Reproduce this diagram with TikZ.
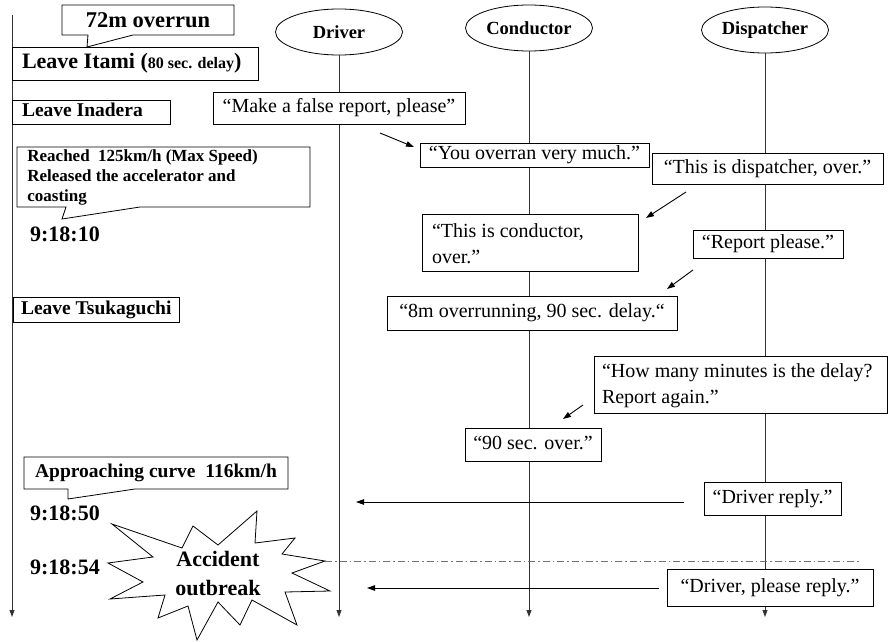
\documentclass[tikz,border=0pt]{standalone}
\usepackage{fontspec}
\setmainfont{Liberation Serif}
\usetikzlibrary{arrows.meta,shapes.geometric}
\begin{document}
\begin{tikzpicture}[x=1pt,y=-1pt,line width=0.8pt,
  actor/.style={draw, ellipse, minimum width=127pt, minimum height=46pt, inner sep=0pt,
    font=\fontsize{18.5}{20}\selectfont\bfseries},
  life/.style={draw=black!80, line width=0.9pt, -{Triangle[length=7pt,width=5pt]}},
  frame/.style={draw, fill=white, inner sep=0pt},
  msgbox/.style={frame, text height=14pt, text depth=4.5pt, font=\fontsize{20}{26}\selectfont},
  msgtext/.style={inner sep=0pt, anchor=west, align=left, font=\fontsize{20}{26}\selectfont},
  evtext/.style={inner sep=0pt, anchor=west, text height=13pt, text depth=4pt,
    font=\fontsize{19.5}{22}\selectfont\bfseries},
  callout/.style={draw, fill=white},
  note/.style={inner sep=0pt, font=\fontsize{#1}{#1}\selectfont\bfseries},
  timestamp/.style={inner sep=0pt, font=\fontsize{22}{24}\selectfont\bfseries},
  msgarrow/.style={-{Triangle[length=8pt,width=5.5pt]}, line width=0.9pt},
  callarrow/.style={-{Triangle[length=8pt,width=5.5pt]}, line width=0.9pt},
  dashdot/.style={draw=black!55, line width=0.8pt, dash pattern=on 7pt off 3pt on 1.5pt off 3pt}
]
\useasboundingbox (0,0) rectangle (889,642);

% participants
\node[actor] (drv) at (339,32) {Driver};
\node[actor] (con) at (529,28) {Conductor};
\node[actor] (dsp) at (765,30) {Dispatcher};

% lifelines
\coordinate (tl-top) at (12,15);
\coordinate (tl-end) at (12,617);
\coordinate (drv-end) at (339,617);
\coordinate (con-end) at (529,617);
\coordinate (dsp-end) at (765,617);
\draw[life] (tl-top) -- (tl-end);
\draw[life] (drv.south) -- (drv-end);
\draw[life] (con.south) -- (con-end);
\draw[life] (dsp.south) -- (dsp-end);

% train events on the time axis
\draw[callout] (62,5) -- (234,5) -- (234,35) -- (133,35) -- (87,47) -- (88,35) -- (62,35) -- cycle;
\node[note=22.5] (ovr) at (148,20) {72m overrun};

\node[frame, minimum width=246pt, minimum height=33pt] (itami) at (135,63.5) {};
\node[evtext, text height=15pt, text depth=5pt, font=\fontsize{22}{24}\selectfont\bfseries]
  (itami-t) at ([xshift=10pt]itami.west)
  {Leave Itami ({\fontsize{16}{18}\selectfont 80 sec. delay})};

\node[frame, minimum width=158pt, minimum height=24pt] (inadera) at (91,112) {};
\node[evtext] (inadera-t) at ([xshift=10pt]inadera.west) {Leave Inadera};

\draw[callout] (17,147) -- (310,147) -- (310,207) -- (140,207) -- (62,219) -- (66,207) -- (17,207) -- cycle;
\node[anchor=north west, inner sep=0pt, align=left, font=\fontsize{17}{20}\selectfont\bfseries] (maxspd) at (27,149)
  {Reached\ \ 125km/h (Max Speed)\\Released the accelerator and\\coasting};

\node[timestamp] (t1) at (65,234) {9:18:10};

\node[frame, minimum width=166pt, minimum height=25pt] (tsuka) at (96,309.5) {};
\node[evtext] (tsuka-t) at ([xshift=8pt]tsuka.west) {Leave Tsukaguchi};

\draw[callout] (24,457) -- (288,457) -- (288,489) -- (135,489) -- (68,499) -- (68,489) -- (24,489) -- cycle;
\node[note=19.5] (curve) at (156,473) {Approaching curve\ \ 116km/h};

\node[timestamp] (t2) at (65,513) {9:18:50};
\node[timestamp] (t3) at (65,567) {9:18:54};

% accident burst
\draw[callout] (112,524) -- (182,548) -- (193,526) -- (218,545) -- (257,511) -- (255,543)
  -- (295,538) -- (282,554) -- (325,561) -- (292,573) -- (330,591) -- (285,592)
  -- (297,625) -- (252,600) -- (240,625) -- (218,602) -- (197,640) -- (188,606)
  -- (158,618) -- (165,595) -- (110,599) -- (143,582) -- (108,563) -- (153,557) -- cycle;
\coordinate (burst-tip) at (325,561);
\node[inner sep=0pt, align=center, font=\fontsize{22}{29}\selectfont\bfseries] (acc) at (218,573)
  {Accident\\outbreak};

% radio messages
\node[msgbox, minimum width=252pt, minimum height=32pt] (m1) at (339,108) {“Make a false report, please”};
\node[msgbox, minimum width=229pt, minimum height=24pt] (m2) at (534.5,155) {“You overran very much.”};
\node[msgbox, minimum width=231pt, minimum height=31pt] (m3) at (767.5,168.5) {“This is dispatcher, over.”};
\node[frame, minimum width=216pt, minimum height=57pt] (m4) at (530,242.5) {};
\node[msgtext] (m4-t) at ([xshift=10pt,yshift=-1pt]m4.west) {“This is conductor,\\over.”};
\node[msgbox, minimum width=150pt, minimum height=28pt] (m5) at (768,244) {“Report please.”};
\node[msgbox, minimum width=290pt, minimum height=34pt] (m6) at (532,313) {“8m overrunning, 90 sec. delay.“};
\node[frame, minimum width=293pt, minimum height=57pt] (m7) at (740.5,384.5) {};
\node[msgtext] (m7-t) at ([xshift=8pt,yshift=-1pt]m7.west) {“How many minutes is the delay?\\Report again.”};
\node[msgbox, minimum width=136pt, minimum height=33pt] (m8) at (533,444.5) {“90 sec. over.”};
\node[msgbox, minimum width=137pt, minimum height=33pt] (m9) at (772.5,498.5) {“Driver reply.”};
\node[msgbox, minimum width=206pt, minimum height=37pt] (m10) at (770,587.5) {“Driver, please reply.”};

% reply arrows
\coordinate (a1s) at (380,133); \coordinate (a1e) at (414,147);
\coordinate (a2s) at (686,192); \coordinate (a2e) at (646,218);
\coordinate (a3s) at (693,270); \coordinate (a3e) at (667,289);
\coordinate (a4s) at (583,405); \coordinate (a4e) at (563,419);
\draw[msgarrow] (a1s) -- (a1e);
\draw[msgarrow] (a2s) -- (a2e);
\draw[msgarrow] (a3s) -- (a3e);
\draw[msgarrow] (a4s) -- (a4e);

% calls to the driver
\coordinate (c1s) at (684,502); \coordinate (c1e) at (356,502);
\coordinate (c2s) at (659,588); \coordinate (c2e) at (367,588);
\draw[callarrow] (c1s) -- (c1e);
\draw[callarrow] (c2s) -- (c2e);

% moment of the accident
\coordinate (dd-end) at (860,561);
\draw[dashdot] (burst-tip) -- (dd-end);
\end{tikzpicture}
\end{document}
